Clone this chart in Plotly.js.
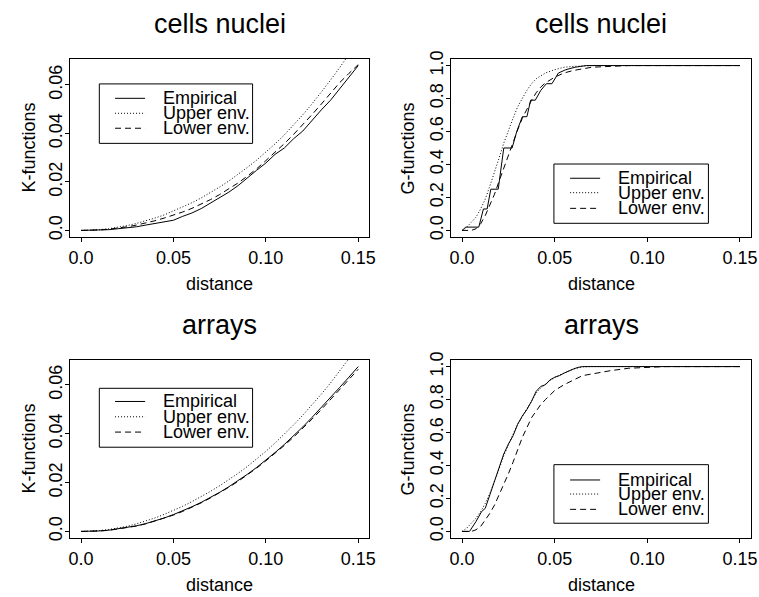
<!DOCTYPE html>
<html>
<head>
<meta charset="utf-8">
<script src="https://cdn.plot.ly/plotly-3.0.1.min.js"></script>
<style>
  html, body { margin: 0; padding: 0; background: #fff; }
  #plot { width: 759px; height: 597px; }
</style>
</head>
<body>
<div id="plot"></div>
<script>
// ---- K-function estimates (shared distance grid) ----
const rK = [0, 0.005, 0.01, 0.015, 0.02, 0.025, 0.03, 0.035, 0.04, 0.045, 0.05,
            0.055, 0.06, 0.065, 0.07, 0.075, 0.08, 0.085, 0.09, 0.095, 0.1,
            0.105, 0.11, 0.115, 0.12, 0.125, 0.13, 0.135, 0.14, 0.145, 0.15];

const cellsKEmpirical = [0, 0.00003, 0.0001, 0.0003, 0.0007, 0.0010, 0.0015, 0.0022, 0.0028, 0.0035, 0.0042,
                         0.0058, 0.0072, 0.0090, 0.0112, 0.0135, 0.0158, 0.0185, 0.0218, 0.0248, 0.0278,
                         0.0314, 0.0340, 0.0378, 0.0410, 0.0455, 0.0497, 0.0537, 0.0585, 0.0632, 0.0680];
const cellsKUpper     = [0, 0.00008, 0.0003, 0.0007, 0.0013, 0.0020, 0.0029, 0.0039, 0.0051, 0.0064, 0.0080,
                         0.0096, 0.0114, 0.0134, 0.0156, 0.0179, 0.0204, 0.0231, 0.0260, 0.0290, 0.0322,
                         0.0357, 0.0394, 0.0434, 0.0477, 0.0522, 0.0570, 0.0620, 0.0672, 0.0726, 0.0782];
const cellsKLower     = [0, 0.00005, 0.0002, 0.0005, 0.0009, 0.0015, 0.0022, 0.0030, 0.0040, 0.0051, 0.0063,
                         0.0076, 0.0091, 0.0108, 0.0127, 0.0148, 0.0171, 0.0196, 0.0224, 0.0254, 0.0288,
                         0.0322, 0.0358, 0.0396, 0.0436, 0.0478, 0.0521, 0.0566, 0.0610, 0.0648, 0.0684];

const arraysKEmpirical = [0, 0.00005, 0.0002, 0.0005, 0.0010, 0.0016, 0.0023, 0.0032, 0.0043, 0.0055, 0.0069,
                          0.0084, 0.0101, 0.0119, 0.0139, 0.0160, 0.0183, 0.0207, 0.0234, 0.0262, 0.0292,
                          0.0323, 0.0356, 0.0391, 0.0428, 0.0467, 0.0507, 0.0548, 0.0590, 0.0632, 0.0675];
const arraysKUpper     = [0, 0.00009, 0.00035, 0.00078, 0.0014, 0.0021, 0.0031, 0.0042, 0.0055, 0.0070, 0.0086,
                          0.0103, 0.0122, 0.0142, 0.0164, 0.0187, 0.0212, 0.0238, 0.0266, 0.0296, 0.0328,
                          0.0362, 0.0398, 0.0436, 0.0476, 0.0518, 0.0562, 0.0608, 0.0656, 0.0706, 0.0758];
const arraysKLower     = [0, 0.00004, 0.00018, 0.00045, 0.00095, 0.0015, 0.0022, 0.0031, 0.0042, 0.0054, 0.0067,
                          0.0082, 0.0099, 0.0117, 0.0137, 0.0158, 0.0181, 0.0205, 0.0231, 0.0259, 0.0289,
                          0.0320, 0.0352, 0.0386, 0.0422, 0.0460, 0.0499, 0.0540, 0.0582, 0.0622, 0.0664];

// ---- G-function estimates (nearest-neighbour distance distribution) ----
const cellsGEmpiricalR = [0, 0.002, 0.009, 0.0115, 0.0135, 0.0155, 0.0195, 0.0225, 0.027, 0.0295, 0.0325,
                          0.035, 0.037, 0.0395, 0.0425, 0.0455, 0.0485, 0.052, 0.056, 0.061, 0.067, 0.15];
const cellsGEmpirical  = [0, 0.02, 0.02, 0.13, 0.13, 0.25, 0.25, 0.50, 0.50, 0.60, 0.69,
                          0.69, 0.79, 0.79, 0.85, 0.89, 0.89, 0.955, 0.975, 0.99, 1.0, 1.0];
const cellsGUpperR = [0, 0.0025, 0.005, 0.0075, 0.01, 0.0125, 0.015, 0.0175, 0.02, 0.0225, 0.025,
                      0.0275, 0.03, 0.0325, 0.035, 0.0375, 0.04, 0.045, 0.05, 0.055, 0.06, 0.07, 0.15];
const cellsGUpper  = [0, 0.02, 0.05, 0.08, 0.13, 0.19, 0.27, 0.35, 0.44, 0.53, 0.61,
                      0.68, 0.75, 0.80, 0.85, 0.89, 0.92, 0.955, 0.975, 0.99, 0.995, 1.0, 1.0];
const cellsGLowerR = [0, 0.005, 0.0075, 0.01, 0.0125, 0.015, 0.0175, 0.02, 0.0225, 0.025, 0.0275,
                      0.03, 0.0325, 0.035, 0.0375, 0.04, 0.0425, 0.045, 0.0475, 0.05, 0.055,
                      0.06, 0.065, 0.07, 0.08, 0.09, 0.15];
const cellsGLower  = [0, 0.0, 0.01, 0.04, 0.09, 0.15, 0.22, 0.30, 0.38, 0.46, 0.54,
                      0.61, 0.68, 0.74, 0.79, 0.835, 0.87, 0.895, 0.915, 0.93, 0.955,
                      0.97, 0.98, 0.99, 0.995, 1.0, 1.0];

const arraysGEmpiricalR = [0, 0.004, 0.0075, 0.0105, 0.0125, 0.015, 0.0175, 0.02, 0.0225, 0.025, 0.0275,
                           0.03, 0.0325, 0.035, 0.0375, 0.04, 0.0425, 0.045, 0.0475, 0.05, 0.0525,
                           0.055, 0.0575, 0.06, 0.0625, 0.065, 0.15];
const arraysGEmpirical  = [0, 0.0, 0.06, 0.12, 0.14, 0.22, 0.31, 0.39, 0.47, 0.53, 0.58,
                           0.65, 0.70, 0.74, 0.79, 0.85, 0.88, 0.89, 0.92, 0.935, 0.945,
                           0.96, 0.975, 0.985, 0.995, 1.0, 1.0];
const arraysGUpperR = [0, 0.0025, 0.005, 0.0075, 0.01, 0.0125, 0.015, 0.0175, 0.02, 0.0225, 0.025,
                       0.0275, 0.03, 0.0325, 0.035, 0.0375, 0.04, 0.0425, 0.045, 0.0475, 0.05,
                       0.055, 0.06, 0.065, 0.07, 0.15];
const arraysGUpper  = [0, 0.02, 0.05, 0.08, 0.12, 0.17, 0.23, 0.30, 0.38, 0.46, 0.53,
                       0.59, 0.65, 0.70, 0.745, 0.79, 0.84, 0.87, 0.895, 0.915, 0.935,
                       0.96, 0.985, 0.998, 1.0, 1.0];
const arraysGLowerR = [0, 0.005, 0.0075, 0.01, 0.0125, 0.015, 0.0175, 0.02, 0.0225, 0.025, 0.0275,
                       0.03, 0.0325, 0.035, 0.0375, 0.04, 0.0425, 0.045, 0.0475, 0.05, 0.055,
                       0.06, 0.065, 0.07, 0.075, 0.08, 0.09, 0.1, 0.11, 0.15];
const arraysGLower  = [0, 0.0, 0.01, 0.03, 0.07, 0.11, 0.16, 0.22, 0.28, 0.35, 0.42,
                       0.50, 0.57, 0.63, 0.69, 0.73, 0.77, 0.80, 0.83, 0.855, 0.89,
                       0.92, 0.945, 0.955, 0.965, 0.975, 0.99, 0.997, 1.0, 1.0];

// ---- labels ----
const panelTitles = ['cells nuclei', 'cells nuclei', 'arrays', 'arrays'];
const yTitles = ['K-functions', 'G-functions', 'K-functions', 'G-functions'];
const xTitle = 'distance';
const seriesNames = ['Empirical', 'Upper env.', 'Lower env.'];
const xTickVals = [0, 0.05, 0.1, 0.15];
const xTickText = ['0.0', '0.05', '0.10', '0.15'];
const kTickVals = [0, 0.02, 0.04, 0.06];
const kTickText = ['0.0', '0.02', '0.04', '0.06'];
const gTickVals = [0, 0.2, 0.4, 0.6, 0.8, 1.0];
const gTickText = ['0.0', '0.2', '0.4', '0.6', '0.8', '1.0'];

// ---- styling ----
const FONT = 'Liberation Sans, Arial, Helvetica, sans-serif';
const lineDash = ['solid', '1px,2px', '6px,4px'];   // solid / dotted / dashed

// pad a data range by 4% on both sides, as base graphics does
function padded(vals) {
  const lo = Math.min(...vals), hi = Math.max(...vals), d = hi - lo;
  return [lo - 0.04 * d, hi + 0.04 * d];
}

const panels = [
  { s: '',  r: [rK, rK, rK], v: [cellsKEmpirical, cellsKUpper, cellsKLower], kind: 'K' },
  { s: '2', r: [cellsGEmpiricalR, cellsGUpperR, cellsGLowerR], v: [cellsGEmpirical, cellsGUpper, cellsGLower], kind: 'G' },
  { s: '3', r: [rK, rK, rK], v: [arraysKEmpirical, arraysKUpper, arraysKLower], kind: 'K' },
  { s: '4', r: [arraysGEmpiricalR, arraysGUpperR, arraysGLowerR], v: [arraysGEmpirical, arraysGUpper, arraysGLower], kind: 'G' }
];

const xDomains = [[0.0922, 0.4866], [0.5942, 0.9895], [0.0922, 0.4866], [0.5942, 0.9895]];
const yDomains = [[0.6030, 0.9012], [0.6030, 0.9012], [0.0988, 0.3970], [0.0988, 0.3970]];

const traces = [];
const layout = {
  width: 759, height: 597,
  margin: { l: 0, r: 0, t: 0, b: 0 },
  paper_bgcolor: '#fff', plot_bgcolor: '#fff',
  showlegend: false,
  font: { family: FONT, color: '#000', size: 18 },
  shapes: [], annotations: []
};

panels.forEach((p, i) => {
  const xa = 'x' + p.s, ya = 'y' + p.s;
  p.v.forEach((vals, j) => {
    traces.push({
      type: 'scatter', mode: 'lines', name: seriesNames[j],
      x: p.r[j], y: vals, xaxis: xa, yaxis: ya,
      line: { color: '#000', width: 1, dash: lineDash[j] },
      hoverinfo: 'skip'
    });
  });

  const axisCommon = {
    showline: true, mirror: true, linecolor: '#000', linewidth: 1,
    ticks: 'outside', ticklen: 4, tickwidth: 1, tickcolor: '#000',
    showgrid: false, zeroline: false, fixedrange: true,
    tickfont: { family: FONT, size: 18, color: '#000' }
  };
  layout['xaxis' + p.s] = Object.assign({}, axisCommon, {
    domain: xDomains[i], anchor: ya,
    range: padded(p.r[0]),
    tickmode: 'array', tickvals: xTickVals, ticktext: xTickText,
    ticklabelstandoff: 0
  });
  layout['yaxis' + p.s] = Object.assign({}, axisCommon, {
    domain: yDomains[i], anchor: xa,
    range: padded(p.v[0]),
    tickmode: 'array',
    tickvals: p.kind === 'K' ? kTickVals : gTickVals,
    ticktext: p.kind === 'K' ? kTickText : gTickText,
    tickangle: -90,
    ticklabelstandoff: -4
  });

  const xc = (xDomains[i][0] + xDomains[i][1]) / 2;
  const yc = (yDomains[i][0] + yDomains[i][1]) / 2;
  const top = i < 2;
  // panel title
  layout.annotations.push({
    text: panelTitles[i], xref: 'paper', yref: 'paper',
    x: xc, y: top ? 0.9598 : 0.4556, xanchor: 'center', yanchor: 'middle',
    showarrow: false, font: { family: FONT, size: 27, color: '#000' }
  });
  // x axis title
  layout.annotations.push({
    text: xTitle, xref: 'paper', yref: 'paper',
    x: xc, y: top ? 0.5243 : 0.0201, xanchor: 'center', yanchor: 'middle',
    showarrow: false, font: { family: FONT, size: 18, color: '#000' }
  });
  // y axis title
  layout.annotations.push({
    text: yTitles[i], xref: 'paper', yref: 'paper', textangle: -90,
    x: i % 2 === 0 ? 0.0376 : 0.5382, y: yc, xanchor: 'center', yanchor: 'middle',
    showarrow: false, font: { family: FONT, size: 18, color: '#000' }
  });

  // boxed key inside the panel
  const left = i % 2 === 0;
  const box = left
    ? { x0: 0.098, x1: 0.610, y0: top ? 0.526 : 0.510, y1: top ? 0.860 : 0.841 }
    : { x0: 0.343, x1: 0.858, y0: top ? 0.077 : 0.083, y1: top ? 0.410 : 0.412 };
  const rows = left
    ? (top ? [0.779, 0.695, 0.611] : [0.767, 0.681, 0.595])
    : (top ? [0.330, 0.249, 0.161] : [0.326, 0.247, 0.161]);
  const lx = left ? [0.1505, 0.251] : [0.397, 0.497];
  const tx = left ? 0.3068 : 0.5545;
  const xr = xa + ' domain', yr = ya + ' domain';
  layout.shapes.push({
    type: 'rect', xref: xr, yref: yr, x0: box.x0, x1: box.x1, y0: box.y0, y1: box.y1,
    line: { color: '#000', width: 1 }, fillcolor: '#fff', layer: 'above'
  });
  seriesNames.forEach((nm, j) => {
    layout.shapes.push({
      type: 'line', xref: xr, yref: yr, x0: lx[0], x1: lx[1], y0: rows[j], y1: rows[j],
      line: { color: '#000', width: 1, dash: lineDash[j] }, layer: 'above'
    });
    layout.annotations.push({
      text: nm, xref: xr, yref: yr, x: tx, y: rows[j], xanchor: 'left', yanchor: 'middle',
      showarrow: false, borderpad: 0, font: { family: FONT, size: 18, color: '#000' }
    });
  });
});

Plotly.newPlot('plot', traces, layout, { staticPlot: true, displayModeBar: false });
</script>
</body>
</html>
